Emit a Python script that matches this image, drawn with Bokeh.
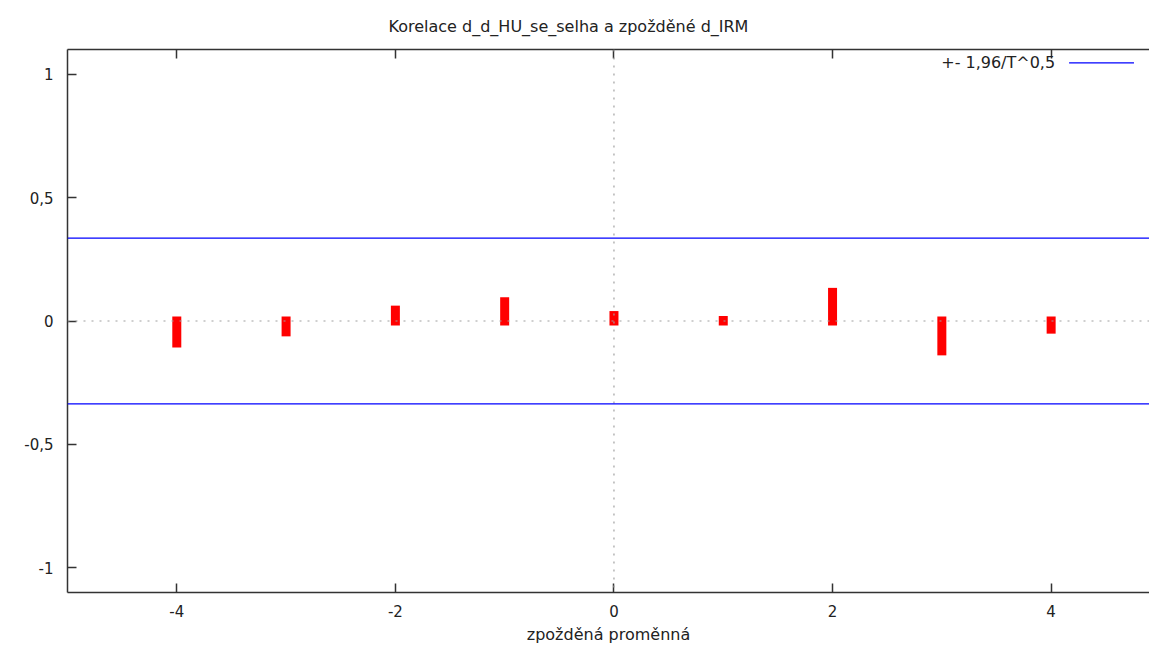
from bokeh.plotting import figure
from bokeh.models import FixedTicker, LinearAxis, Span, Label
from bokeh.embed import file_html
from bokeh.resources import INLINE

# ---- data ----
lags = [-4, -3, -2, -1, 0, 1, 2, 3, 4]
corr = [-0.089, -0.044, 0.044, 0.078, 0.022, 0.002, 0.116, -0.121, -0.033]
T = 34
bound = 1.96 / T ** 0.5
x_ticks = [-4, -2, 0, 2, 4]
x_tick_labels = ["-4", "-2", "0", "2", "4"]
y_ticks = [-1, -0.5, 0, 0.5, 1]
y_tick_labels = ["-1", "-0,5", "0", "0,5", "1"]
title = "Korelace d_d_HU_se_selha a zpožděné d_IRM"
xlabel = "zpožděná proměnná"
legend_text = "+- 1,96/T^0,5"

FONT = "DejaVu Sans"
TXT = "#222222"
AX = "#333333"

p = figure(width=1149, height=646, x_range=(-5, 4.9), y_range=(-1.1, 1.1),
           output_backend="svg", toolbar_location=None, x_axis_location="below",
           min_border_left=67, min_border_right=0, min_border_top=49, min_border_bottom=54)
p.outline_line_color = None
p.xgrid.visible = False
p.ygrid.visible = False
p.background_fill_color = "white"
p.border_fill_color = "white"

p.title.text = title
p.title.text_font = FONT
p.title.text_font_size = "16px"
p.title.text_font_style = "normal"
p.title.text_color = TXT
p.title.align = "left"
p.title.offset = 321
p.title.standoff = 28

def style_axis(ax, ticks, labels):
    ax.ticker = FixedTicker(ticks=ticks)
    ax.major_label_overrides = {t: l for t, l in zip(ticks, labels)}
    ax.major_tick_in = 9
    ax.major_tick_out = 0
    ax.minor_tick_in = 0
    ax.minor_tick_out = 0
    ax.axis_line_color = AX
    ax.axis_line_width = 1.5
    ax.major_tick_line_color = AX
    ax.major_tick_line_width = 1.5
    ax.major_label_text_font = FONT
    ax.major_label_text_font_size = "15px"
    ax.major_label_text_color = TXT

xa = p.xaxis[0]
style_axis(xa, x_ticks, x_tick_labels)
xa.major_label_standoff = 12
xa.axis_label = xlabel
xa.axis_label_text_font = FONT
xa.axis_label_text_font_size = "16px"
xa.axis_label_text_font_style = "normal"
xa.axis_label_text_color = TXT
xa.axis_label_standoff = 5

ya = p.yaxis[0]
style_axis(ya, y_ticks, y_tick_labels)
ya.major_label_standoff = 14

top = LinearAxis()
style_axis(top, x_ticks, [""] * len(x_ticks))
top.major_label_standoff = 0
p.add_layout(top, "above")

# zero lines (dotted)
for dim, loc in (("width", 0), ("height", 0)):
    p.add_layout(Span(location=loc, dimension=dim, line_color="#a0a0a0",
                      line_width=1.2, line_dash="2 6"))

# confidence bands
for b in (bound, -bound):
    p.add_layout(Span(location=b, dimension="width", line_color="#0000ff", line_width=1.2))

# impulses
p.segment(x0=lags, y0=[0] * len(lags), x1=lags, y1=corr,
          line_color="#ff0000", line_width=9, line_cap="square")

# legend (gnuplot style: text left, sample right)
lx_text = (1055 - 613) / 109.5
lx0 = (1069 - 613) / 109.5
lx1 = (1134 - 613) / 109.5
ly = (320.7 - 64) / 245.5
p.add_layout(Label(x=lx_text, y=ly, text=legend_text, text_align="right",
                   text_baseline="middle", text_font=FONT, text_font_size="16px",
                   text_color=TXT))
p.segment(x0=[lx0], y0=[ly], x1=[lx1], y1=[ly], line_color="#0000ff", line_width=1.2)

open("out.html", "w").write(file_html(p, INLINE))
